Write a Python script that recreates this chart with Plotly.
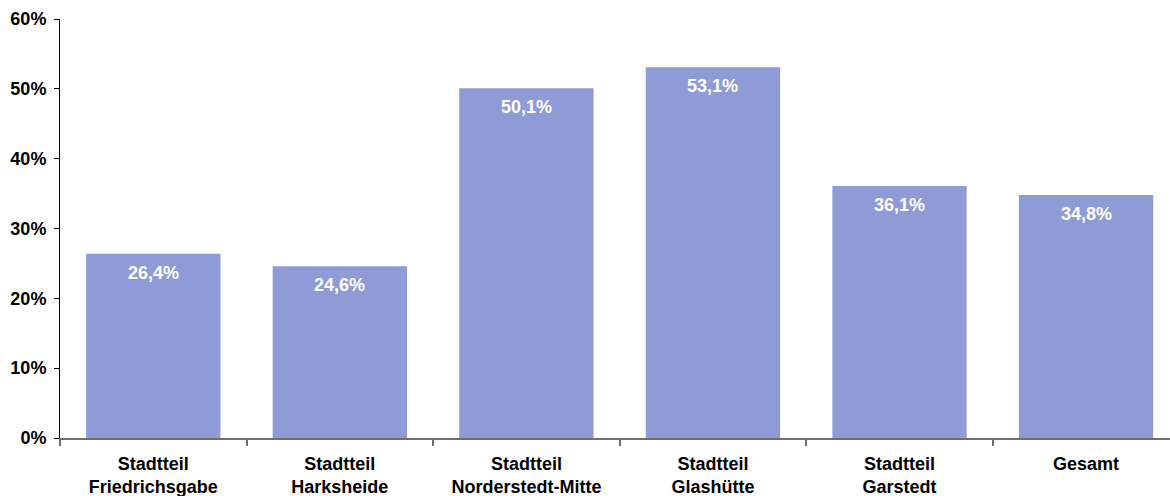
import plotly.graph_objects as go

categories = [
    "Stadtteil<br>Friedrichsgabe",
    "Stadtteil<br>Harksheide",
    "Stadtteil<br>Norderstedt-Mitte",
    "Stadtteil<br>Glashütte",
    "Stadtteil<br>Garstedt",
    "Gesamt",
]
values = [26.4, 24.6, 50.1, 53.1, 36.1, 34.8]
value_labels = ["26,4%", "24,6%", "50,1%", "53,1%", "36,1%", "34,8%"]
y_ticks = [0, 10, 20, 30, 40, 50, 60]
y_tick_labels = ["0%", "10%", "20%", "30%", "40%", "50%", "60%"]

FONT = "Liberation Sans, Arial, sans-serif"

fig = go.Figure()
fig.add_trace(go.Bar(
    x=categories,
    y=values,
    width=0.72,
    marker=dict(color="#8F9BD6", line=dict(width=0)),
    hoverinfo="skip",
))

for c, v, t in zip(categories, values, value_labels):
    fig.add_annotation(
        x=c, y=v, text="<b>%s</b>" % t, showarrow=False,
        yanchor="top", yshift=-7,
        font=dict(family=FONT, size=18, color="white"),
    )

fig.update_layout(
    width=1170, height=496,
    margin=dict(l=60, r=0, t=19, b=58, autoexpand=False),
    paper_bgcolor="white", plot_bgcolor="white",
    showlegend=False,
    bargap=0.28,
    font=dict(family=FONT, size=18, color="black"),
)
fig.update_xaxes(
    type="category",
    range=[-0.5, 5.45],
    automargin=False,
    showline=True, linecolor="#6e6e6e", linewidth=2,
    ticks="outside", ticklen=6, tickcolor="#6e6e6e", tickwidth=1.5,
    tickson="boundaries",
    ticklabelstandoff=8,
    showgrid=False,
    tickfont=dict(family=FONT, size=18, color="black", weight="bold"),
)
fig.update_yaxes(
    range=[0, 60],
    automargin=False,
    tickvals=y_ticks, ticktext=y_tick_labels,
    showline=True, linecolor="black", linewidth=1,
    ticks="outside", ticklen=5, tickcolor="black",
    showgrid=False, zeroline=False,
    ticklabelstandoff=4,
    tickfont=dict(family=FONT, size=18, color="black", weight="bold"),
)

fig.write_html(
    "out.html",
    config={"displayModeBar": False},
    post_script="document.body.style.margin='0';document.body.style.overflow='hidden';",
)
